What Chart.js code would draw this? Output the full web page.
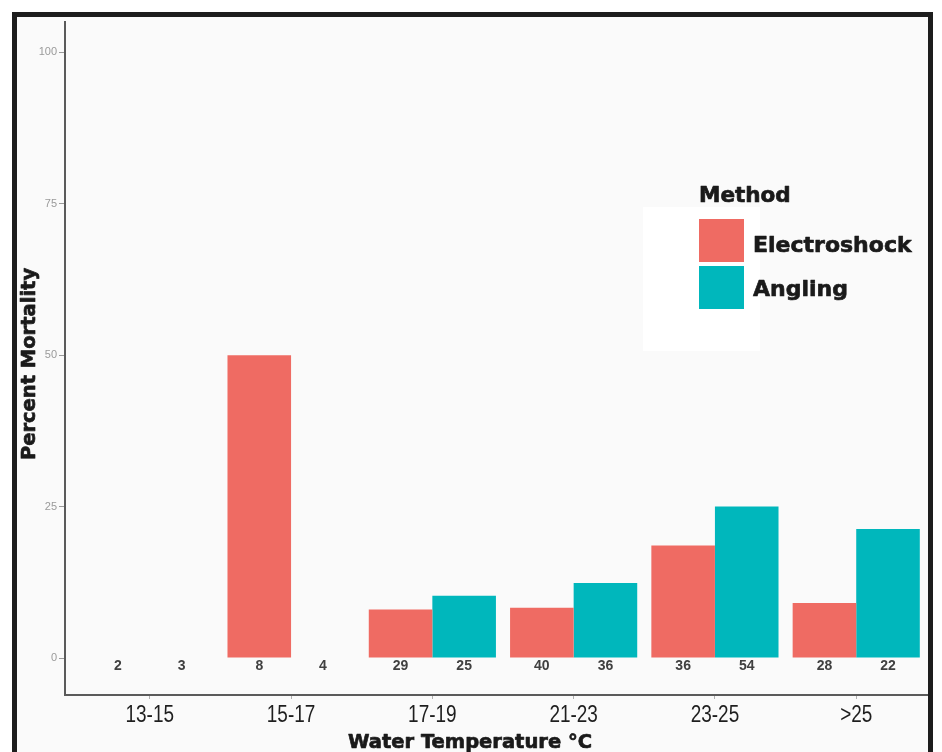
<!DOCTYPE html>
<html><head><meta charset="utf-8">
<script src="https://cdn.jsdelivr.net/npm/chart.js@4.4.1/dist/chart.umd.min.js"></script>
<style>
html,body{margin:0;padding:0;overflow:hidden;background:#fff;width:942px;height:752px}
#frame{position:absolute;left:12px;top:12px;width:921px;height:800px;box-sizing:border-box;border:5px solid #1d1d1d;background:#fafafa;overflow:hidden}
#c{position:absolute;left:-17px;top:-17px;width:942px;height:752px}
</style></head><body>
<div id="frame"><canvas id="c" width="942" height="752"></canvas></div>
<script>
const categories = ['13-15', '15-17', '17-19', '21-23', '23-25', '>25'];
const electroshock = [0, 50, 8.0, 8.3, 18.6, 9.1];
const angling = [0, 0, 10.3, 12.4, 25.0, 21.3];
const electroshockN = [2, 8, 29, 40, 36, 28];
const anglingN = [3, 4, 25, 36, 54, 22];
const yTicks = [0, 25, 50, 75, 100];
const seriesNames = ['Electroshock', 'Angling'];
const seriesColors = ['#EF6B63', '#00B7BC'];
const legendTitle = 'Method';
const xTitle = 'Water Temperature °C';
const yTitle = 'Percent Mortality';

const TITLE_FONT = '"DejaVu Sans", sans-serif';

function heavyText(ctx, txt, x, y) {
  ctx.fillText(txt, x, y);
  ctx.strokeText(txt, x, y);
}

const overlay = {
  id: 'overlay',
  afterDatasetsDraw(chart) {
    const ctx = chart.ctx;
    const ys = chart.scales.y;
    const xs = chart.scales.x;
    ctx.save();
    // sample-size labels
    ctx.font = 'bold 14px "Liberation Sans", sans-serif';
    ctx.fillStyle = '#404040';
    ctx.textAlign = 'center';
    ctx.textBaseline = 'middle';
    [electroshockN, anglingN].forEach((arr, d) => {
      chart.getDatasetMeta(d).data.forEach((bar, i) => {
        ctx.fillText(String(arr[i]), bar.x, ys.getPixelForValue(-1.3));
      });
    });
    // x category labels (narrow face)
    ctx.fillStyle = '#1e1e1e';
    ctx.font = '24px "Liberation Sans", sans-serif';
    ctx.textBaseline = 'alphabetic';
    categories.forEach((c, i) => {
      const px = xs.getPixelForValue(i);
      ctx.save();
      ctx.translate(px, 721.5);
      ctx.scale(0.79, 1);
      ctx.fillText(c, 0, 0);
      ctx.restore();
    });
    // axis titles
    ctx.fillStyle = '#1a1a1a';
    ctx.strokeStyle = '#1a1a1a';
    ctx.lineWidth = 0.7;
    ctx.lineJoin = 'round';
    ctx.font = 'bold 19.5px ' + TITLE_FONT;
    ctx.textAlign = 'center';
    heavyText(ctx, xTitle, 470, 748);
    ctx.save();
    ctx.translate(35, 364);
    ctx.rotate(-Math.PI / 2);
    ctx.font = 'bold 19.5px ' + TITLE_FONT;
    heavyText(ctx, yTitle, 0, 0);
    ctx.restore();
    // legend
    ctx.fillStyle = '#ffffff';
    ctx.fillRect(643, 207, 117, 144);
    ctx.textAlign = 'left';
    ctx.fillStyle = '#1a1a1a';
    ctx.font = 'bold 21.5px ' + TITLE_FONT;
    heavyText(ctx, legendTitle, 699, 202);
    const sw = [[219, 252], [266, 296]];
    seriesNames.forEach((name, k) => {
      ctx.fillStyle = seriesColors[k];
      ctx.fillRect(699, sw[k][0], 45, 43);
      ctx.fillStyle = '#1a1a1a';
      ctx.font = 'bold 22px ' + TITLE_FONT;
      heavyText(ctx, name, 753, sw[k][1]);
    });
    ctx.restore();
  }
};

new Chart(document.getElementById('c'), {
  type: 'bar',
  data: {
    datasets: [
      { label: seriesNames[0], data: electroshock.map((v, i) => ({ x: i, y: v })), backgroundColor: seriesColors[0], borderWidth: 0 },
      { label: seriesNames[1], data: angling.map((v, i) => ({ x: i, y: v })), backgroundColor: seriesColors[1], borderWidth: 0 }
    ]
  },
  options: {
    responsive: false,
    animation: false,
    devicePixelRatio: 1,
    categoryPercentage: 0.9,
    barPercentage: 1.0,
    layout: { padding: { top: 22, right: 1, left: 0, bottom: 0 } },
    plugins: { legend: { display: false }, tooltip: { enabled: false } },
    scales: {
      x: {
        type: 'linear',
        min: -0.6,
        max: 5.6,
        offset: false,
        afterBuildTicks: s => { s.ticks = categories.map((c, i) => ({ value: i })); },
        afterFit: s => { s.height = 57; },
        ticks: {
          display: false,
          callback: v => categories[v],
          autoSkip: false
        },
        grid: { display: true, offset: false, drawOnChartArea: false, drawTicks: true, tickLength: 4, color: '#b0b0b0', lineWidth: 1 },
        border: { display: true, color: '#5a5a5a', width: 2 }
      },
      y: {
        min: -6.1,
        max: 105,
        afterBuildTicks: s => { s.ticks = yTicks.map(v => ({ value: v })); },
        afterFit: s => { s.width = 65; },
        ticks: {
          font: { family: '"Liberation Sans", sans-serif', size: 11 },
          color: '#9a9a9a',
          padding: 2
        },
        grid: { display: true, drawOnChartArea: false, drawTicks: true, tickLength: 6, color: '#9a9a9a', lineWidth: 1 },
        border: { display: true, color: '#5a5a5a', width: 2 }
      }
    }
  },
  plugins: [overlay]
});
</script>
</body></html>
